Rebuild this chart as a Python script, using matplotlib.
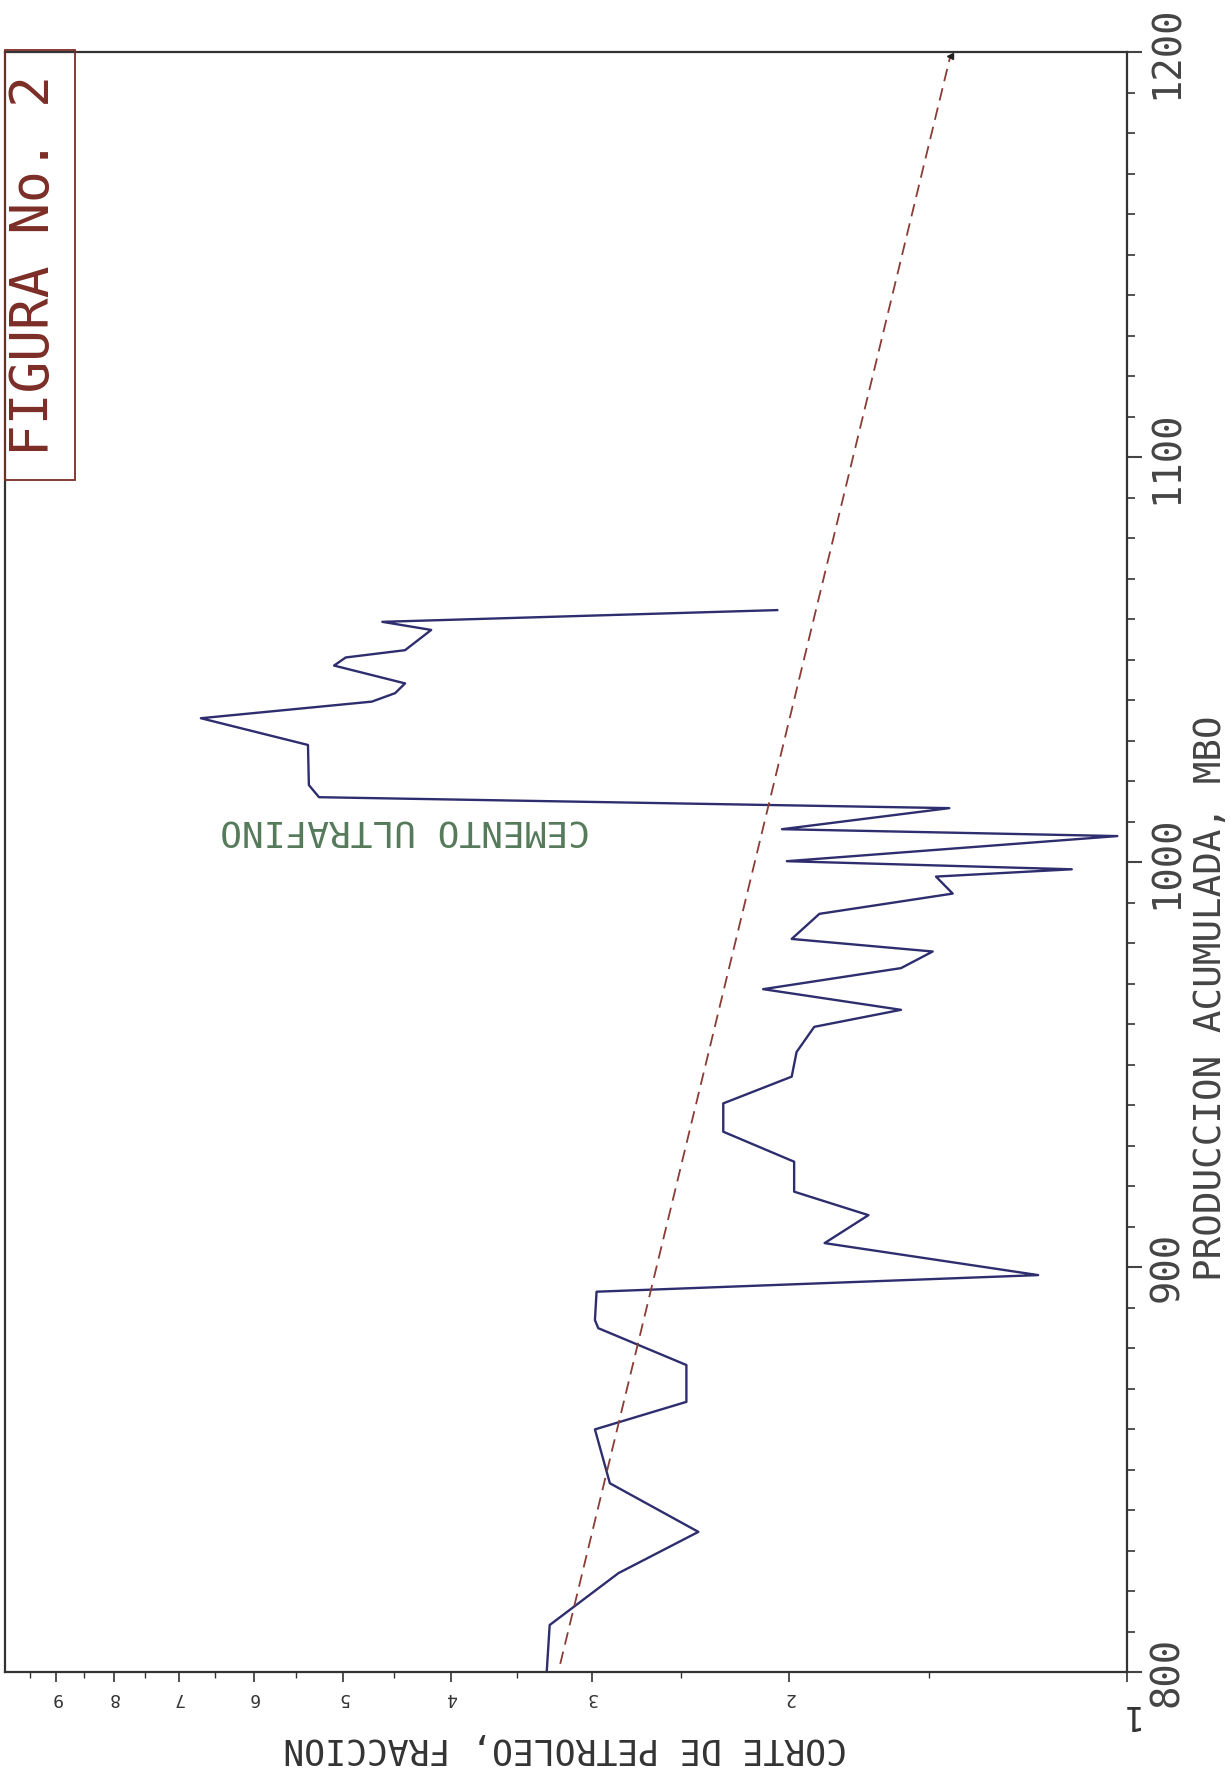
import matplotlib.pyplot as plt
from matplotlib.patches import Rectangle

# --- datos ---
# produccion acumulada (MBO) y corte de petroleo (fraccion)
produccion = [800.0, 811.6, 824.4, 834.6, 846.6, 859.9, 866.7, 875.8, 884.9, 886.9,
              893.9, 898.0, 905.9, 912.8, 918.6, 926.0, 933.4, 940.4, 947.0, 953.1,
              959.3, 963.5, 968.6, 973.8, 977.9, 981.0, 987.2, 992.2, 996.4, 998.2,
              1000.2, 1006.4, 1008.1, 1013.3, 1016.0, 1019.0, 1028.9, 1035.5, 1039.6, 1041.7,
              1044.1, 1048.5, 1050.5, 1052.3, 1057.3, 1059.3, 1062.2]
corte = [3.29, 3.27, 2.84, 2.41, 2.89, 2.98, 2.47, 2.47, 2.96, 2.98,
         2.97, 1.20, 1.86, 1.70, 1.98, 1.98, 2.29, 2.29, 1.99, 1.97,
         1.90, 1.59, 2.11, 1.59, 1.49, 1.99, 1.88, 1.43, 1.48, 1.12,
         2.01, 1.02, 2.03, 1.44, 5.25, 5.36, 5.37, 6.69, 4.71, 4.49,
         4.40, 5.09, 4.97, 4.40, 4.17, 4.61, 2.05]

# tendencia (linea discontinua)
tend_prod = [802, 1199]
tend_corte = [3.20, 1.437]

# ejes
corte_ticks = [1, 2, 3, 4, 5, 6, 7, 8, 9]
corte_labels = ["1", "2", "3", "4", "5", "6", "7", "8", "9"]
corte_minor = [1.5, 2.5, 3.5, 4.5, 5.5, 6.5, 7.5, 8.5, 9.5]
prod_ticks = [800, 900, 1000, 1100, 1200]
prod_minor = list(range(800, 1201, 10))

W, H = 1230, 1773
plt.rcParams['font.family'] = ['DejaVu Sans Mono']


def fx(px):
    return px / W


def fy(py):
    return 1 - py / H


fig = plt.figure(figsize=(W / 100, H / 100), dpi=100)
ax = fig.add_axes([fx(5), fy(1672), fx(1127) - fx(5), fy(52) - fy(1672)])

ax.plot(corte, produccion, color='#2e2d6e', lw=1.7)
ax.plot(tend_corte, tend_prod, color='#8b3c35', lw=1.3, ls=(0, (7, 4)))
ax.plot([tend_corte[1]], [tend_prod[1]], marker='<', color='#222222', ms=5)

ax.set_xscale('log')
ax.set_xlim(10, 1)
ax.set_ylim(800, 1200)

ax.set_xticks(corte_ticks, corte_labels)
ax.set_xticks(corte_minor, minor=True)
ax.xaxis.set_minor_formatter(plt.NullFormatter())
ax.set_yticks(prod_ticks)
ax.set_yticks(prod_minor, minor=True)
ax.yaxis.tick_right()

for s in ax.spines.values():
    s.set_color('#333333')
    s.set_linewidth(1.6)

ax.tick_params(axis='x', which='major', direction='out', length=7, width=1.2,
               pad=5, labelsize=13, labelrotation=180, colors='#333333')
ax.tick_params(axis='x', which='minor', direction='out', length=4, width=1.0,
               colors='#333333')
ax.tick_params(axis='y', which='major', direction='out', length=11, width=1.5,
               pad=4, labelsize=28, labelrotation=90, colors='#444444')
ax.tick_params(axis='y', which='minor', direction='out', length=6, width=1.3,
               colors='#444444')
tick1 = ax.xaxis.get_major_ticks()[0]
tick1.label1.set_fontsize(24)
tick1.set_pad(12)
for lbl in ax.get_yticklabels():
    lbl.set_va('center')

ax.text(4.40, 1007.7, 'CEMENTO ULTRAFINO', rotation=180, ha='center', va='center',
        fontsize=26, color='#557a5a')

fig.text(fx(565), fy(1748), 'CORTE DE PETROLEO, FRACCION', rotation=180,
         ha='center', va='center', fontsize=25, color='#333333')
fig.text(fx(1211), fy(998), 'PRODUCCION ACUMULADA, MBO', rotation=90,
         ha='center', va='center', fontsize=27, color='#444444')

fig.text(fx(34), fy(265), 'FIGURA No. 2', rotation=90, ha='center', va='center',
         fontsize=38, color='#7b2d26')
fig.patches.append(Rectangle((fx(5), fy(480)), fx(75) - fx(5), fy(50) - fy(480),
                             transform=fig.transFigure, fill=False,
                             edgecolor='#7b2d26', lw=1.3))

fig.savefig('out.png', dpi=100)
